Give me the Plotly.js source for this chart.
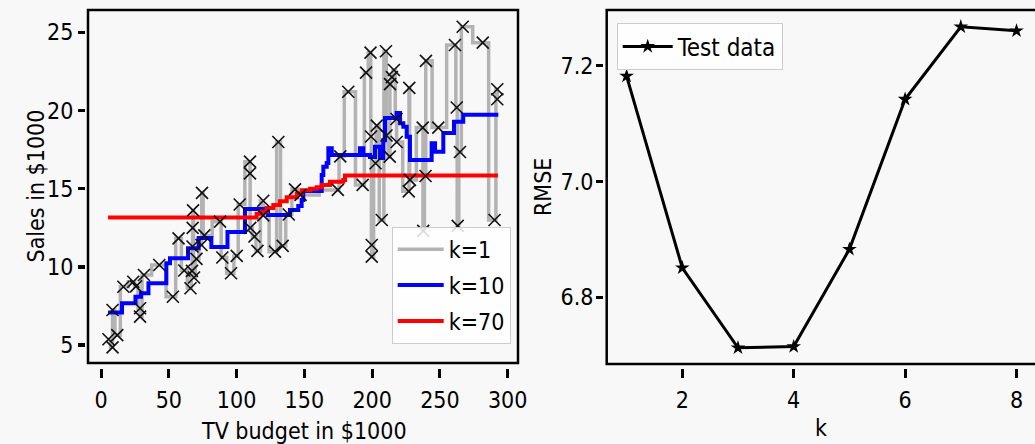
<!DOCTYPE html>
<html>
<head>
<meta charset="utf-8">
<script src="https://cdn.plot.ly/plotly-3.0.1.min.js"></script>
<style>html,body{margin:0;padding:0;background:#f8f8f8;}#chart{width:1035px;height:444px;}</style>
</head>
<body>
<div id="chart"></div>
<script>
// Training data (TV budget in $1000, Sales in $1000), sorted by TV budget
const tv = [5.5, 8.5, 8.5, 12.0, 16.5, 23.8, 25.8, 28.8, 28.8, 31.7, 43.0, 53.0, 57.2, 61.4, 66.0, 67.1, 67.5, 67.6, 67.9, 68.6, 70.4, 74.1, 74.5, 76.2, 87.8, 89.5, 95.9, 100.1, 102.3, 109.9, 109.9, 110.1, 113.2, 115.4, 119.7, 119.7, 128.3, 130.8, 134.0, 138.5, 143.1, 147.2, 174.7, 176.5, 182.4, 193.0, 195.5, 198.8, 199.2, 199.7, 199.7, 202.5, 203.4, 207.1, 210.2, 210.6, 213.0, 213.2, 214.6, 216.1, 218.0, 218.1, 227.0, 227.4, 227.9, 237.3, 237.7, 239.4, 239.7, 248.8, 261.1, 262.4, 263.1, 264.8, 266.8, 281.6, 290.3, 292.3, 292.3];
const sales = [5.37, 4.85, 7.24, 5.63, 8.73, 9.05, 8.75, 7.35, 6.82, 9.48, 10.12, 8.09, 11.82, 9.77, 8.63, 9.74, 11.30, 12.49, 13.61, 9.32, 10.51, 11.40, 14.73, 12.01, 12.89, 10.60, 9.59, 10.70, 13.99, 16.73, 15.98, 12.49, 11.94, 11.02, 14.23, 13.29, 10.97, 17.99, 11.34, 13.35, 14.96, 14.60, 14.92, 17.07, 21.20, 15.24, 22.42, 23.70, 18.34, 11.40, 10.65, 16.63, 19.03, 13.00, 23.79, 18.40, 17.05, 21.69, 22.14, 22.59, 19.46, 17.99, 14.83, 21.45, 15.56, 18.91, 12.30, 15.81, 23.18, 18.91, 24.19, 20.19, 12.62, 17.35, 25.36, 24.34, 13.00, 21.36, 20.72];

// k=10 prediction (step starts)
const k10x = [5.2, 15.5, 25.4, 29.5, 35.0, 48.2, 50.9, 64.2, 72.0, 81.4, 93.3, 106.2, 123.2, 139.4, 145.5, 148.0, 149.2, 162.8, 164.0, 166.5, 167.7, 170.2, 191.0, 193.5, 198.4, 202.1, 205.8, 208.2, 209.5, 218.1, 220.6, 223.0, 225.5, 227.9, 243.9, 246.4, 252.5, 260.4, 267.2, 293.1];
const k10y = [7.08, 7.67, 8.08, 8.31, 8.95, 10.23, 10.55, 11.19, 11.85, 11.27, 12.23, 13.70, 13.32, 13.64, 13.90, 14.28, 14.85, 15.88, 16.40, 16.64, 17.58, 17.16, 17.58, 17.16, 17.03, 17.69, 16.96, 18.10, 19.52, 19.84, 19.18, 18.96, 18.32, 16.83, 17.90, 17.37, 18.56, 19.28, 19.73, 19.73];

// k=70 prediction (step starts)
const k70x = [5.2, 114.8, 117.3, 122.2, 127.1, 132.0, 137.0, 144.4, 148.0, 154.2, 159.1, 162.8, 168.9, 178.7, 180.0, 292.8];
const k70y = [13.15, 13.40, 13.53, 13.77, 13.96, 14.20, 14.45, 14.70, 14.90, 15.00, 15.10, 15.24, 15.45, 15.56, 15.84, 15.84];

// Right panel: test RMSE by k
const kVals = [1, 2, 3, 4, 5, 6, 7, 8];
const rmse = [7.182, 6.851, 6.713, 6.715, 6.883, 7.142, 7.267, 7.260];

const FONT = "Liberation Sans Narrow, DejaVu Sans Condensed, Noto Sans, sans-serif";
const W = 1035, H = 444;
const px = v => v / W, py = v => 1 - v / H;

const traces = [
  {x: tv, y: sales, type: 'scatter', mode: 'lines', line: {shape: 'hvh', color: '#b3b3b3', width: 3.5},
   name: 'k=1', legendgroup: 'a', xaxis: 'x', yaxis: 'y'},
  {x: k10x, y: k10y, type: 'scatter', mode: 'lines', line: {shape: 'hv', color: '#0000ff', width: 4},
   name: 'k=10', legendgroup: 'b', xaxis: 'x', yaxis: 'y'},
  {x: k70x, y: k70y, type: 'scatter', mode: 'lines', line: {shape: 'hv', color: '#ff0000', width: 4},
   name: 'k=70', legendgroup: 'c', xaxis: 'x', yaxis: 'y'},
  {x: tv, y: sales, type: 'scatter', mode: 'markers', showlegend: false,
   marker: {symbol: 'x-thin', size: 12, line: {color: '#111111', width: 1.6}}, xaxis: 'x', yaxis: 'y'},
  {x: kVals, y: rmse, type: 'scatter', mode: 'lines+markers', name: 'Test data', legend: 'legend2',
   line: {color: '#000000', width: 3}, marker: {symbol: 'star', size: 11, color: '#000000'},
   xaxis: 'x2', yaxis: 'y2'}
];

const tickFont = {family: FONT, size: 23, color: '#000'};
const axBase = {showgrid: false, zeroline: false, showline: false, ticks: 'outside', tickcolor: '#000',
  tickfont: tickFont, anchor: 'free', fixedrange: true};

const titleFont = {family: FONT, size: 23, color: '#000'};

const layout = {
  width: W, height: H,
  margin: {l: 0, r: 0, t: 0, b: 0},
  paper_bgcolor: '#f8f8f8', plot_bgcolor: '#f8f8f8',
  font: {family: FONT, color: '#000'},
  showlegend: true,
  xaxis: Object.assign({}, axBase, {domain: [px(88), px(518)], range: [-9.6, 307.6], position: py(368),
    tickvals: [0, 50, 100, 150, 200, 250, 300], ticklen: 9, tickwidth: 3, ticklabelstandoff: 2}),
  yaxis: Object.assign({}, axBase, {domain: [py(363), py(10)], range: [3.85, 26.43], position: px(84.5),
    tickvals: [5, 10, 15, 20, 25], ticklen: 6.5, tickwidth: 3.3, ticklabelstandoff: 0}),
  xaxis2: Object.assign({}, axBase, {domain: [px(606.7), 1], range: [0.643, 8.332], position: py(368),
    tickvals: [2, 4, 6, 8], ticklen: 9, tickwidth: 3, ticklabelstandoff: 2}),
  yaxis2: Object.assign({}, axBase, {domain: [py(364), py(10)], range: [6.685, 7.296], position: px(603),
    tickvals: [6.8, 7.0, 7.2], tickformat: '.1f', ticklen: 7, tickwidth: 3.3, ticklabelstandoff: -2}),
  legend: {x: px(391.7), y: py(226.7), xanchor: 'left', yanchor: 'top', bgcolor: 'rgba(255,255,255,0.85)',
    bordercolor: '#cccccc', borderwidth: 1, font: {family: FONT, size: 23, color: '#000'}, tracegroupgap: 3,
    itemwidth: 46},
  legend2: {x: px(616.7), y: py(23.3), xanchor: 'left', yanchor: 'top', bgcolor: 'rgba(255,255,255,0.85)',
    bordercolor: '#cccccc', borderwidth: 1, font: {family: FONT, size: 24, color: '#000'}, itemwidth: 50},
  shapes: [
    {type: 'rect', xref: 'x domain', yref: 'y domain', x0: 0, x1: 1, y0: 0, y1: 1, line: {color: '#000', width: 2.5}},
    {type: 'rect', xref: 'x2 domain', yref: 'y2 domain', x0: 0, x1: 1.02, y0: 0, y1: 1, line: {color: '#000', width: 2.5}}
  ],
  annotations: [
    {text: 'Sales in $1000', xref: 'paper', yref: 'paper', x: px(35), y: py(186.5), textangle: -90,
     xanchor: 'center', yanchor: 'middle', showarrow: false, font: titleFont},
    {text: 'TV budget in $1000', xref: 'paper', yref: 'paper', x: px(304), y: py(431), xanchor: 'center',
     yanchor: 'middle', showarrow: false, font: titleFont},
    {text: 'RMSE', xref: 'paper', yref: 'paper', x: px(543), y: py(187), textangle: -90, xanchor: 'center',
     yanchor: 'middle', showarrow: false, font: titleFont},
    {text: 'k', xref: 'paper', yref: 'paper', x: px(821), y: py(428), xanchor: 'center', yanchor: 'middle',
     showarrow: false, font: titleFont}
  ]
};

Plotly.newPlot('chart', traces, layout, {staticPlot: true, displayModeBar: false});
</script>
</body>
</html>
